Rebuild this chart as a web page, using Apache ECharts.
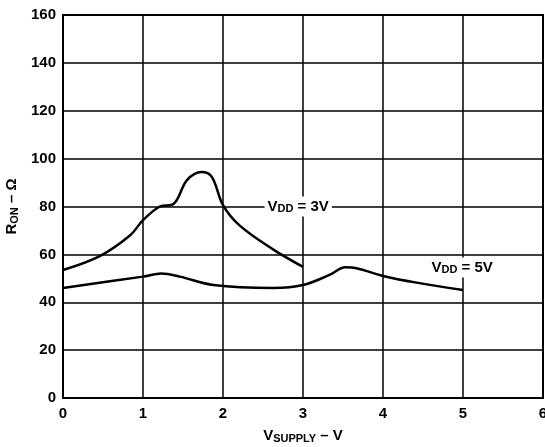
<!DOCTYPE html>
<html>
<head>
<meta charset="utf-8">
<title>RON vs VSUPPLY</title>
<script src="https://cdn.jsdelivr.net/npm/echarts@6/dist/echarts.min.js"></script>
<style>
  html, body { margin: 0; padding: 0; background: #fff; }
  #chart { width: 545px; height: 447px; }
</style>
</head>
<body>
<div id="chart"></div>
<script>
// VDD = 3V curve
var x3 = [0, 0.46, 0.84, 1.0, 1.21, 1.38, 1.55, 1.73, 1.86, 2.0, 2.21, 2.63, 3.0];
var y3 = [53.5, 59.3, 68, 74.3, 80, 81, 91, 94.4, 92.4, 80.6, 72, 62, 54.8];
// VDD = 5V curve
var x5 = [0, 1.0, 1.23, 1.46, 1.88, 2.63, 3.0, 3.33, 3.53, 3.67, 4.0, 4.42, 5.0];
var y5 = [46, 50.7, 52, 50.7, 47.2, 46, 47.2, 51.4, 54.6, 54.2, 51, 48.2, 45.1];
var xTicks = [0, 1, 2, 3, 4, 5, 6];
var yTicks = [0, 20, 40, 60, 80, 100, 120, 140, 160];

function pairs(xs, ys) {
  var out = [];
  for (var i = 0; i < xs.length; i++) out.push([xs[i], ys[i]]);
  return out;
}

var font = 'Liberation Sans, Arial, sans-serif';
var richText = {
  m: { fontSize: 15, fontWeight: 'bold', fontFamily: font, color: '#000', lineHeight: 16 },
  s: { fontSize: 11, fontWeight: 'bold', fontFamily: font, color: '#000', lineHeight: 6, verticalAlign: 'bottom' }
};

var myChart = echarts.init(document.getElementById('chart'));

var option = {
  animation: false,
  grid: {
    left: 63, right: 2, top: 15, bottom: 49,
    containLabel: false,
    outerBoundsMode: 'none',
    show: true, borderColor: '#000', borderWidth: 2
  },
  xAxis: {
    type: 'value',
    min: xTicks[0], max: xTicks[xTicks.length - 1], interval: 1,
    axisLine: { show: true, lineStyle: { color: '#000', width: 2 } },
    axisTick: { show: false },
    splitLine: { show: true, lineStyle: { color: '#000', width: 1.5 } },
    axisLabel: { fontSize: 15, fontWeight: 'bold', fontFamily: font, color: '#000', margin: 8 },
    name: '{m|V}{s|SUPPLY}{m| – V}',
    nameLocation: 'middle',
    nameGap: 30,
    nameTextStyle: { rich: richText }
  },
  yAxis: {
    type: 'value',
    min: yTicks[0], max: yTicks[yTicks.length - 1], interval: 20,
    axisLine: { show: true, lineStyle: { color: '#000', width: 2 } },
    axisTick: { show: false },
    splitLine: { show: true, lineStyle: { color: '#000', width: 1.5 } },
    axisLabel: { fontSize: 15, fontWeight: 'bold', fontFamily: font, color: '#000', margin: 7 },
    name: '{m|R}{s|ON}{m| – Ω}',
    nameLocation: 'middle',
    nameGap: 40,
    nameTextStyle: { rich: richText }
  },
  series: [
    {
      name: 'VDD = 3V',
      type: 'line',
      data: pairs(x3, y3),
      smooth: 0.35,
      symbol: 'none',
      lineStyle: { color: '#000', width: 2.5 },
      markPoint: {
        symbol: 'circle', symbolSize: 0,
        data: [{ coord: [2.94, 80] }],
        label: {
          show: true, position: 'inside',
          formatter: '{m|V}{s|DD}{m| = 3V}',
          backgroundColor: '#fff', padding: [2, 3, 2, 3],
          rich: richText
        }
      }
    },
    {
      name: 'VDD = 5V',
      type: 'line',
      data: pairs(x5, y5),
      smooth: 0.35,
      symbol: 'none',
      lineStyle: { color: '#000', width: 2.5 },
      markPoint: {
        symbol: 'circle', symbolSize: 0,
        data: [{ coord: [4.99, 54.5] }],
        label: {
          show: true, position: 'inside',
          formatter: '{m|V}{s|DD}{m| = 5V}',
          backgroundColor: '#fff', padding: [2, 3, 2, 3],
          rich: richText
        }
      }
    }
  ]
};

myChart.setOption(option);
</script>
</body>
</html>
